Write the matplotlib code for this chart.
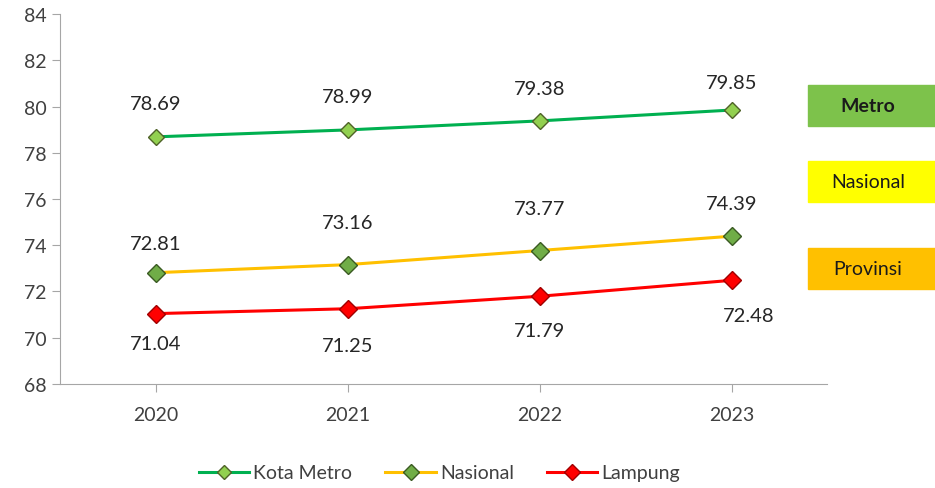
import matplotlib.pyplot as plt
from matplotlib.patches import Rectangle

years = ["2020", "2021", "2022", "2023"]
kota_metro = [78.69, 78.99, 79.38, 79.85]
nasional = [72.81, 73.16, 73.77, 74.39]
lampung = [71.04, 71.25, 71.79, 72.48]

plt.rcParams['font.family'] = ['Lato', 'DejaVu Sans']

fig = plt.figure(figsize=(9.35, 4.89), dpi=100)
ax = fig.add_axes([0.064, 0.213, 0.821, 0.756])

x = list(range(len(years)))
ax.plot(x, kota_metro, color='#00B050', lw=2.2, marker='D', ms=8,
        mfc='#92D050', mec='#4F6228', mew=1, label='Kota Metro', zorder=3)
ax.plot(x, nasional, color='#FFC000', lw=2.2, marker='D', ms=9,
        mfc='#70AD47', mec='#3A5A22', mew=1, label='Nasional', zorder=3)
ax.plot(x, lampung, color='#FF0000', lw=2.2, marker='D', ms=9,
        mfc='#FF0000', mec='#A00000', mew=1, label='Lampung', zorder=3)

# label offsets in pixels (dx, dy)
metro_off = [(0, 33), (0, 33), (0, 32), (0, 28)]
nas_off = [(0, 29), (0, 42), (0, 42), (0, 33)]
lam_off = [(0, -30), (0, -37), (0, -34), (17, -35)]
for series, offs in [(kota_metro, metro_off), (nasional, nas_off), (lampung, lam_off)]:
    for i, v in enumerate(series):
        ax.annotate(f"{v:.2f}", (i, v), xytext=offs[i], textcoords='offset pixels',
                    ha='center', va='center', fontsize=14.5, color='#262626')

ax.set_xlim(-0.5, 3.5)
ax.set_ylim(68, 84)
ax.set_yticks(range(68, 85, 2))
ax.set_xticks(x)
ax.set_xticklabels(years)
for s in ['top', 'right']:
    ax.spines[s].set_visible(False)
for s in ['left', 'bottom']:
    ax.spines[s].set_color('#A6A6A6')
ax.tick_params(axis='both', colors='#A6A6A6', labelcolor='#404040', labelsize=14, length=6)
ax.tick_params(axis='x', pad=10)

# side boxes
boxes = [("Metro", '#7DC24B', 86, 'bold'), ("Nasional", '#FFFF00', 162, 'normal'),
         ("Provinsi", '#FFC000', 249, 'normal')]
W, H = 935, 489
for txt, col, top, wt in boxes:
    fig.add_artist(Rectangle((808 / W, 1 - (top + 41) / H), 127 / W, 41 / H,
                             transform=fig.transFigure, color=col, zorder=5))
    fig.text(868 / W, 1 - (top + 20.5) / H, txt, ha='center', va='center',
             fontsize=14, fontweight=wt, color='#1a1a1a', zorder=6)

handles, labels = ax.get_legend_handles_labels()
fig.legend(handles, labels, loc='center', bbox_to_anchor=(0.47, 0.031), ncol=3,
           frameon=False, fontsize=14, markerscale=0.85, handlelength=2.6,
           columnspacing=1.7, handletextpad=0.2, labelcolor='#404040')

fig.savefig('out.png', dpi=100)
